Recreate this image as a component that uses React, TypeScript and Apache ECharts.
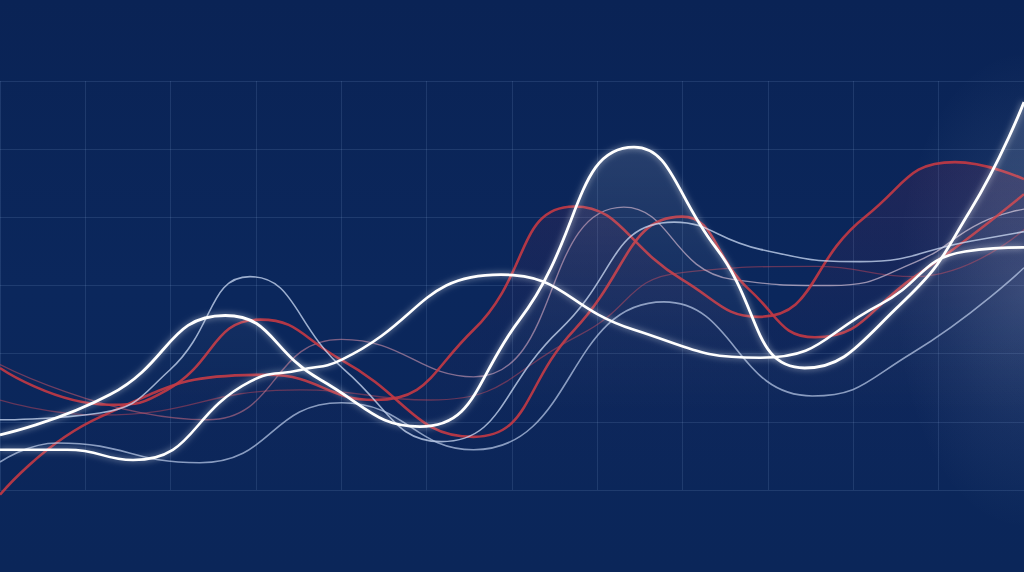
import React, { useEffect, useRef } from "react";
import * as echarts from "echarts";

type Pt = [number, number];

// Bright white line with the tall peak
const brightPeak: Pt[] = [
  [0, 0.81], [1.29, 1.4], [2.64, 2.56], [3.75, 1.62], [4.92, 0.93], [6.09, 2.5],
  [7.43, 5.03], [8.38, 3.57], [9.43, 1.79], [10.55, 2.72], [11.37, 4.1], [12, 5.69],
];

// Bright white line with the broad hump
const brightHump: Pt[] = [
  [0, 0.59], [0.79, 0.59], [1.56, 0.44], [2.93, 1.59], [3.52, 1.76], [4.0, 1.91],
  [5.87, 3.16], [7.43, 2.35], [8.91, 1.94], [10.31, 2.72], [11.31, 3.5], [12, 3.56],
];

// Thin white lines
const thinWhiteUpper: Pt[] = [
  [0, 1.03], [1.17, 1.13], [1.99, 1.76], [2.93, 3.13], [4.04, 1.76], [5.17, 0.71],
  [6.56, 2.35], [7.9, 3.93], [8.91, 3.53], [10.08, 3.35], [11.37, 3.65], [12, 3.79],
];

const thinWhiteLower: Pt[] = [
  [0, 0.41], [0.67, 0.69], [2.34, 0.4], [4.0, 1.28], [5.55, 0.59], [7.78, 2.76],
  [9.52, 1.38], [10.69, 2.01], [12, 3.26],
];

// Thin line fading from red to white
const thinPink: Pt[] = [
  [0, 1.84], [2.43, 1.03], [4.0, 2.21], [5.55, 1.66], [7.31, 4.15], [8.58, 3.09],
  [9.73, 3.0], [10.72, 3.34], [11.51, 3.93], [12, 4.12],
];

// Thin faint red line
const thinRed: Pt[] = [
  [0, 1.32], [1.17, 1.1], [3.52, 1.47], [5.04, 1.32], [6.8, 2.28], [7.99, 3.19],
  [9.55, 3.28], [10.72, 3.13], [12, 3.82],
];

// Thick red lines
const redA: Pt[] = [
  [0, 1.79], [1.29, 1.25], [1.96, 1.47], [3.05, 2.5], [4.0, 1.91], [5.55, 0.78],
  [6.73, 2.35], [7.99, 4.01], [8.78, 2.94], [9.55, 2.24], [10.72, 3.13], [12, 4.34],
];

const redB: Pt[] = [
  [0, -0.07], [1.17, 1.07], [3.13, 1.69], [4.39, 1.32], [5.55, 2.35], [6.73, 4.16],
  [7.99, 3.09], [8.89, 2.54], [10.14, 4.01], [11.19, 4.81], [12, 4.56],
];

const X_MIN = 0;
const X_MAX = 12;
const Y_MIN = 0;
const Y_MAX = 6;

const GRID_COLOR = "rgba(150,180,230,0.15)";

export default function App() {
  const ref = useRef<HTMLDivElement>(null);

  useEffect(() => {
    if (!ref.current) return;
    const chart = echarts.init(ref.current, undefined, { renderer: "svg" });

    const glow = (w: number) => ({
      width: w,
      color: "#ffffff",
      shadowBlur: 6,
      shadowColor: "rgba(255,255,255,0.6)",
    });

    const base = {
      type: "line" as const,
      smooth: 0.5,
      symbol: "none",
      clip: false,
      silent: true,
    };

    chart.setOption({
      animation: false,
      backgroundColor: new echarts.graphic.LinearGradient(0, 0, 0, 1, [
        { offset: 0, color: "#0a2355" },
        { offset: 0.5, color: "#0b275c" },
        { offset: 1, color: "#0b2659" },
      ]),
      graphic: [
        {
          type: "rect",
          z: 0,
          silent: true,
          shape: { x: 744, y: 30, width: 280, height: 520 },
          style: {
            fill: new echarts.graphic.RadialGradient(1, 0.5, 0.46, [
              { offset: 0, color: "rgba(200,215,240,0.16)" },
              { offset: 0.6, color: "rgba(200,215,240,0.05)" },
              { offset: 1, color: "rgba(200,215,240,0)" },
            ]),
          },
        },
      ],
      grid: { left: 0, right: 0, top: 81, bottom: 82 },
      xAxis: {
        type: "value",
        min: X_MIN,
        max: X_MAX,
        interval: 1,
        axisLine: { show: false },
        axisTick: { show: false },
        axisLabel: { show: false },
        splitLine: { show: true, lineStyle: { color: GRID_COLOR, width: 1 } },
      },
      yAxis: {
        type: "value",
        min: Y_MIN,
        max: Y_MAX,
        interval: 1,
        axisLine: { show: false },
        axisTick: { show: false },
        axisLabel: { show: false },
        splitLine: { show: true, lineStyle: { color: GRID_COLOR, width: 1 } },
      },
      series: [
        {
          ...base,
          name: "redB",
          data: redB,
          z: 3,
          lineStyle: { width: 2.6, color: "rgba(196,58,68,0.9)" },
          areaStyle: {
            color: new echarts.graphic.LinearGradient(0, 0, 0, 1, [
              { offset: 0, color: "rgba(150,45,85,0.22)" },
              { offset: 0.5, color: "rgba(150,45,85,0.05)" },
              { offset: 1, color: "rgba(150,45,85,0)" },
            ]),
          },
        },
        {
          ...base,
          name: "redA",
          data: redA,
          z: 3,
          lineStyle: { width: 2.6, color: "rgba(196,58,68,0.9)" },
        },
        {
          ...base,
          name: "thinRed",
          data: thinRed,
          z: 2,
          lineStyle: { width: 1.3, color: "rgba(190,70,90,0.5)" },
        },
        {
          ...base,
          name: "thinPink",
          data: thinPink,
          z: 2,
          lineStyle: {
            width: 1.4,
            color: new echarts.graphic.LinearGradient(0, 0, 1, 0, [
              { offset: 0, color: "rgba(190,70,90,0.55)" },
              { offset: 0.5, color: "rgba(215,170,195,0.6)" },
              { offset: 1, color: "rgba(225,225,240,0.7)" },
            ]),
          },
        },
        {
          ...base,
          name: "thinWhiteUpper",
          data: thinWhiteUpper,
          z: 4,
          lineStyle: { width: 1.6, color: "rgba(205,220,245,0.75)" },
        },
        {
          ...base,
          name: "thinWhiteLower",
          data: thinWhiteLower,
          z: 4,
          lineStyle: { width: 1.6, color: "rgba(190,205,235,0.7)" },
        },
        {
          ...base,
          name: "brightHump",
          data: brightHump,
          z: 5,
          lineStyle: glow(2.6),
        },
        {
          ...base,
          name: "brightPeak",
          data: brightPeak,
          z: 6,
          lineStyle: glow(2.8),
          areaStyle: {
            color: new echarts.graphic.LinearGradient(0, 0, 0, 1, [
              { offset: 0, color: "rgba(255,255,255,0.2)" },
              { offset: 0.4, color: "rgba(255,255,255,0.08)" },
              { offset: 0.8, color: "rgba(255,255,255,0)" },
            ]),
          },
        },
      ],
    });

    return () => chart.dispose();
  }, []);

  return (
    <div
      ref={ref}
      style={{
        width: 1024,
        height: 572,
        position: "fixed",
        left: 0,
        top: 0,
        background: "#0b2559",
      }}
    />
  );
}
